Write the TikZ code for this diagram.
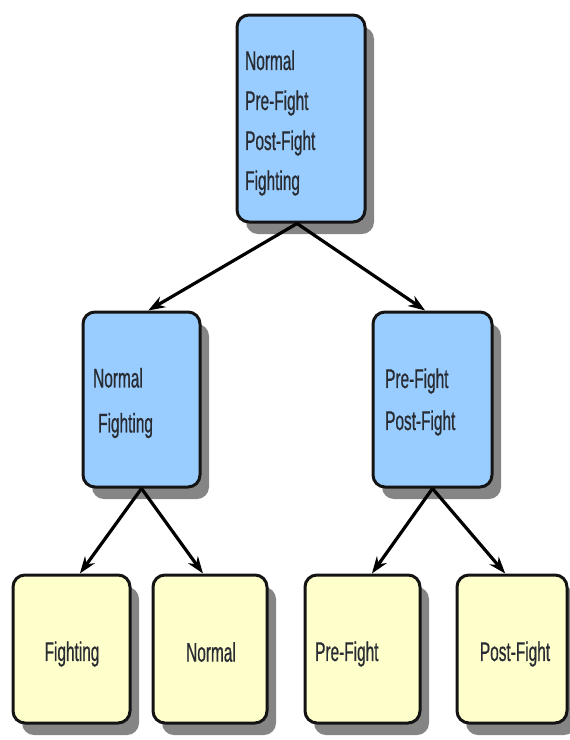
\documentclass[tikz,border=0pt]{standalone}
\usepackage{fontspec}
\newfontfamily\nar[FakeStretch=0.57,FakeBold=0.6]{Liberation Sans}
\usetikzlibrary{arrows.meta,shadows,calc}
\definecolor{boxblue}{RGB}{153,204,255}
\definecolor{boxyellow}{RGB}{255,255,204}
\definecolor{edgedark}{RGB}{20,20,20}
\definecolor{txtdark}{RGB}{40,44,50}
\begin{document}
\begin{tikzpicture}[x=1pt,y=-1pt,
  box/.style={draw=edgedark, line width=3pt, rounded corners=12pt, inner sep=0pt,
    drop shadow={shadow xshift=9pt, shadow yshift=-12pt, fill=black!48, opacity=1}},
  bluebox/.style={box, fill=boxblue},
  yelbox/.style={box, fill=boxyellow},
  txt/.style={inner sep=0pt, text=txtdark, align=left, font=\nar\fontsize{27}{40}\selectfont},
  conn/.style={draw=black, line width=3.2pt, -{Stealth[length=17pt,width=12pt]}}]
\useasboundingbox[fill=white] (0,0) rectangle (570,740);
% boxes
\node[bluebox, minimum width=128pt, minimum height=207pt] (top) at (301,118.5) {};
\node[bluebox, minimum width=117pt, minimum height=175pt] (ml) at (141.5,399.5) {};
\node[bluebox, minimum width=119pt, minimum height=175pt] (mr) at (432.5,399.5) {};
\node[yelbox, minimum width=117pt, minimum height=148pt] (b1) at (71.5,649) {};
\node[yelbox, minimum width=114pt, minimum height=148pt] (b2) at (210,649) {};
\node[yelbox, minimum width=115pt, minimum height=148pt] (b3) at (362.5,649) {};
\node[yelbox, minimum width=110pt, minimum height=148pt] (b4) at (512,649) {};
% texts
\node[txt, anchor=west] (ttop) at (245,123) {Normal\\Pre-Fight\\Post-Fight\\Fighting};
\node[txt, anchor=west, font=\nar\fontsize{27}{45}\selectfont] (tml) at (93,403) {Normal\\\hspace*{5pt}Fighting};
\node[txt, anchor=west, font=\nar\fontsize{27}{42}\selectfont] (tmr) at (385,402) {Pre-Fight\\Post-Fight};
\node[txt] (tb1) at (72,654) {Fighting};
\node[txt] (tb2) at (211,652) {Normal};
\node[txt, anchor=west] (tb3) at (315,654) {Pre-Fight};
\node[txt] (tb4) at (515,654) {Post-Fight};
% connectors
\draw[conn] ($(top.south west)!0.47!(top.south east)$) -- ($(ml.north west)!0.556!(ml.north east)$);
\draw[conn] ($(top.south west)!0.47!(top.south east)$) -- ($(mr.north west)!0.44!(mr.north east)$);
\draw[conn] ($(ml.south west)!0.5!(ml.south east)$) -- ($(b1.north west)!0.57!(b1.north east)$);
\draw[conn] ($(ml.south west)!0.5!(ml.south east)$) -- ($(b2.north west)!0.44!(b2.north east)$);
\draw[conn] ($(mr.south west)!0.5!(mr.south east)$) -- ($(b3.north west)!0.58!(b3.north east)$);
\draw[conn] ($(mr.south west)!0.5!(mr.south east)$) -- ($(b4.north west)!0.44!(b4.north east)$);
\end{tikzpicture}
\end{document}
